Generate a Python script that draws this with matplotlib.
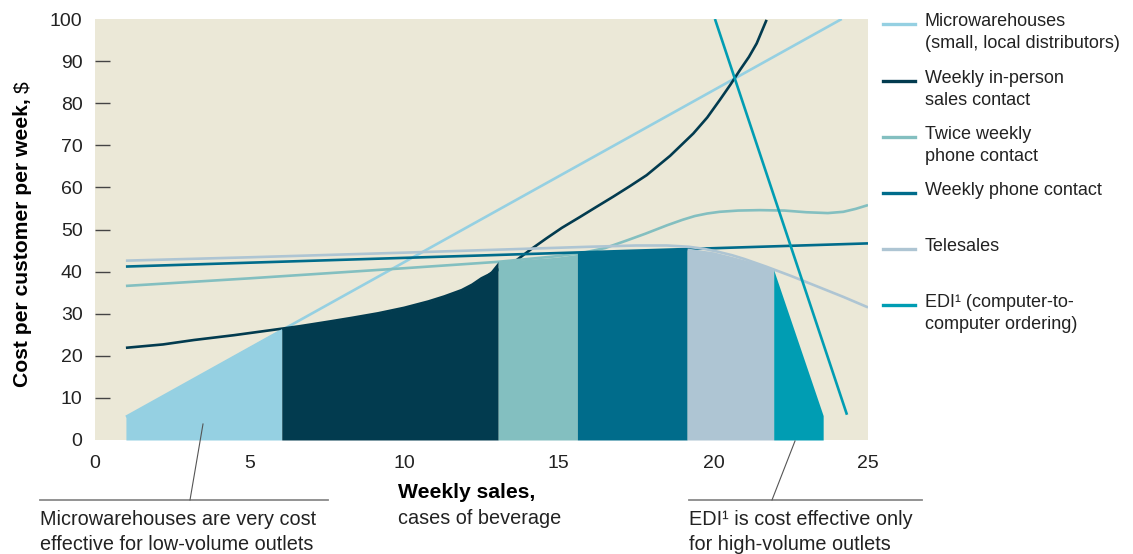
"""Cost per customer per week vs weekly sales — cheapest sales channel by outlet volume."""
import matplotlib
matplotlib.use("Agg")
import matplotlib.pyplot as plt
from matplotlib.lines import Line2D

W, H = 1133, 554
FONT = "Liberation Sans"
BG = "#ebe8d7"
TXT = "#222222"

# ── cost curves (x = cases/week, y = $ per customer per week) ──
MICRO_X = [1, 24.15]
MICRO_Y = [5.5, 100]
INPERSON_X = [1, 2.2, 3.2, 4.5, 5.7, 6.6, 7.55, 8.3, 9.16, 10.0, 10.78, 11.3, 11.86, 12.2,
              12.5, 13.1, 13.64, 14.1, 14.6, 15.1, 15.69, 16.2, 16.76, 17.3, 17.84, 18.6,
              19.35, 19.8, 20.21, 20.55, 20.86, 21.15, 21.4, 21.72]
INPERSON_Y = [21.9, 22.7, 23.75, 24.9, 26.1, 27.0, 28.1, 29.0, 30.1, 31.4, 32.9, 34.1,
              35.6, 36.9, 38.4, 40.6, 42.75, 45.3, 47.9, 50.4, 53.0, 55.3, 57.8, 60.3,
              62.9, 67.5, 72.8, 76.6, 80.8, 84.4, 87.9, 91.0, 94.2, 99.8]
TWICE_X = [1, 5, 10, 13, 15, 15.8, 16.5, 17.2, 17.8, 18.5, 19.0, 19.4, 19.8, 20.2, 20.8,
           21.5, 22.3, 23, 23.7, 24.2, 24.6, 25]
TWICE_Y = [36.6, 38.4, 40.8, 42.3, 43.7, 44.5, 45.6, 47.4, 49.0, 51.0, 52.3, 53.2, 53.8,
           54.2, 54.5, 54.6, 54.5, 54.1, 53.9, 54.2, 54.9, 55.8]
PHONE_X = [1, 25]
PHONE_Y = [41.2, 46.7]
TELE_X = [1, 5, 10, 13, 16, 17.5, 18.5, 19.2, 19.7, 20.1, 20.6, 21.0, 21.7, 22.5, 23.35,
          24.2, 25]
TELE_Y = [42.6, 43.4, 44.5, 45.2, 45.9, 46.2, 46.2, 45.9, 45.4, 44.8, 43.9, 43.0, 41.2,
          39.0, 36.5, 34.0, 31.5]
EDI_X = [20.05, 24.32]
EDI_Y = [100, 6]

# ── shaded lowest-cost envelope, one band per channel ──
MICRO_FILL_X = [1, 6.04]
MICRO_FILL_Y = [5.5, 26.5]
INPERSON_FILL_X = [6.04, 6.8, 7.55, 8.3, 9.16, 10.0, 10.78, 11.3, 11.86, 12.2, 12.5,
                   12.8, 13.04]
INPERSON_FILL_Y = [26.7, 27.3, 28.1, 29.0, 30.1, 31.4, 32.9, 34.1, 35.6, 36.9, 38.4,
                   40.2, 42.4]
TWICE_FILL_X = [13.04, 14.9, 15.6]
TWICE_FILL_Y = [42.4, 43.4, 44.1]
PHONE_FILL_X = [15.6, 19.15]
PHONE_FILL_Y = [44.5, 45.6]
TELE_FILL_X = [19.15, 20.0, 20.6, 21.3, 21.95]
TELE_FILL_Y = [45.6, 44.7, 43.6, 42.2, 40.4]
EDI_FILL_X = [21.95, 23.55]
EDI_FILL_Y = [40.4, 5.8]

LABELS = ["Microwarehouses\n(small, local distributors)",
          "Weekly in-person\nsales contact",
          "Twice weekly\nphone contact",
          "Weekly phone contact",
          "Telesales",
          "EDI\u00b9 (computer-to-\ncomputer ordering)"]
COLORS = ["#95d0e2", "#023b4f", "#83bfc0", "#006c8b", "#aec5d3", "#009db3"]
X_TICKS = [0, 5, 10, 15, 20, 25]
Y_TICKS = list(range(0, 101, 10))


def fx(px):
    return px / W


def fy(py):
    return 1 - py / H


plt.rcParams["font.family"] = [FONT, "DejaVu Sans"]
fig = plt.figure(figsize=(W / 100, H / 100), dpi=100)
ax = fig.add_axes([fx(95), fy(440), fx(868) - fx(95), fy(19) - fy(440)])
ax.set_facecolor(BG)
for s in ax.spines.values():
    s.set_visible(False)

curves = [(MICRO_X, MICRO_Y), (INPERSON_X, INPERSON_Y), (TWICE_X, TWICE_Y),
          (PHONE_X, PHONE_Y), (TELE_X, TELE_Y), (EDI_X, EDI_Y)]
fills = [(MICRO_FILL_X, MICRO_FILL_Y), (INPERSON_FILL_X, INPERSON_FILL_Y),
         (TWICE_FILL_X, TWICE_FILL_Y), (PHONE_FILL_X, PHONE_FILL_Y),
         (TELE_FILL_X, TELE_FILL_Y), (EDI_FILL_X, EDI_FILL_Y)]

for (xs, ys), c in zip(curves, COLORS):
    ax.plot(xs, ys, color=c, lw=1.9, solid_capstyle="butt", solid_joinstyle="round", zorder=2)
# fills sit on top so the curves vanish inside the envelope
for (xs, ys), c in zip(fills, COLORS):
    ax.fill_between(xs, 0, ys, color=c, lw=0, zorder=3)

ax.set_xlim(0, 25)
ax.set_ylim(0, 100)
ax.set_xticks(X_TICKS)
ax.set_yticks(Y_TICKS)
ax.tick_params(axis="x", length=0, pad=11, labelsize=14, labelcolor=TXT)
ax.tick_params(axis="y", direction="in", length=11, width=1, color="#444444",
               pad=9, labelsize=14, labelcolor=TXT)
yt = ax.yaxis.get_major_ticks()
yt[0].tick1line.set_visible(False)
yt[-1].tick1line.set_visible(False)

# ── y label: bold part + plain "$" ──
ylab = fig.text(fx(28), fy(387), "Cost per customer per week,", rotation=90,
                rotation_mode="anchor", ha="left", va="baseline",
                fontsize=15.2, fontweight="bold", color="black")
fig.canvas.draw()
bb = ylab.get_window_extent()
fig.text(fx(28), (bb.y1 + 5) / H, "$", rotation=90, rotation_mode="anchor",
         ha="left", va="baseline", fontsize=15.2, color="black")

# ── x label ──
fig.text(fx(398), fy(498), "Weekly sales,", fontsize=15.2, fontweight="bold",
         color="black", va="baseline")
fig.text(fx(398), fy(524), "cases of beverage", fontsize=14.3, color=TXT, va="baseline")

# ── call-outs: rule, leader line, two text lines ──
callouts = [(40, 328, 190, 424, 203, ["Microwarehouses are very cost",
                                      "effective for low-volume outlets"]),
            (689, 922, 772, 441, 795, ["EDI\u00b9 is cost effective only",
                                       "for high-volume outlets"])]
for x0, x1, lx0, ly0, lx1, lines in callouts:
    fig.add_artist(Line2D([fx(x0), fx(x1)], [fy(500), fy(500)], color="#8a8a8a", lw=1.3))
    fig.add_artist(Line2D([fx(lx0), fx(lx1)], [fy(500), fy(ly0)], color="#555555", lw=0.8))
    for i, line in enumerate(lines):
        fig.text(fx(x0), fy(525 + 25 * i), line, fontsize=14.3, color=TXT, va="baseline")

# ── legend, drawn by hand to match the layout ──
LEG_Y = [24, 81, 137, 193, 249, 305]
for lab, c, py in zip(LABELS, COLORS, LEG_Y):
    fig.add_artist(Line2D([fx(883), fx(915)], [fy(py), fy(py)], color=c, lw=2.4))
    fig.text(fx(925), fy(py - 11), lab, fontsize=13, color=TXT, va="top",
             linespacing=1.36)

fig.savefig("out.png", dpi=100, facecolor="white")
